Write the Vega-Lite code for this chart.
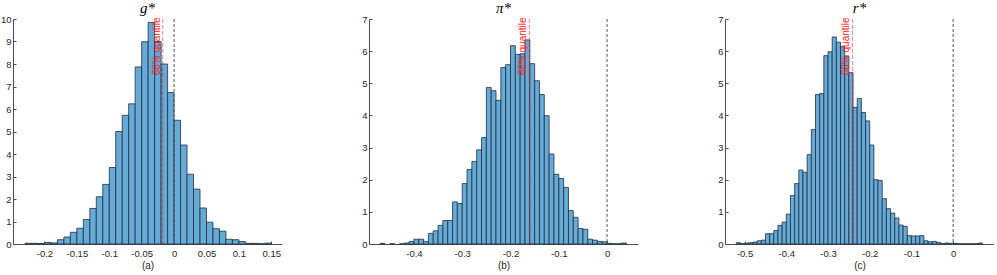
{
  "$schema": "https://vega.github.io/schema/vega-lite/v6.json",
  "padding": {"left": 0, "top": 0, "right": 0, "bottom": 0},
  "background": "white",
  "spacing": 87,
  "bounds": "flush",
  "datasets": {
    "hist_a": [
      {"bin_start": -0.23, "bin_end": -0.22, "density": 0.03},
      {"bin_start": -0.22, "bin_end": -0.21, "density": 0.03},
      {"bin_start": -0.21, "bin_end": -0.20, "density": 0.02},
      {"bin_start": -0.20, "bin_end": -0.19, "density": 0.07},
      {"bin_start": -0.19, "bin_end": -0.18, "density": 0.05},
      {"bin_start": -0.18, "bin_end": -0.17, "density": 0.19},
      {"bin_start": -0.17, "bin_end": -0.16, "density": 0.31},
      {"bin_start": -0.16, "bin_end": -0.15, "density": 0.52},
      {"bin_start": -0.15, "bin_end": -0.14, "density": 0.70},
      {"bin_start": -0.14, "bin_end": -0.13, "density": 1.09},
      {"bin_start": -0.13, "bin_end": -0.12, "density": 1.58},
      {"bin_start": -0.12, "bin_end": -0.11, "density": 2.10},
      {"bin_start": -0.11, "bin_end": -0.10, "density": 2.65},
      {"bin_start": -0.10, "bin_end": -0.09, "density": 3.40},
      {"bin_start": -0.09, "bin_end": -0.08, "density": 5.00},
      {"bin_start": -0.08, "bin_end": -0.07, "density": 5.72},
      {"bin_start": -0.07, "bin_end": -0.06, "density": 6.23},
      {"bin_start": -0.06, "bin_end": -0.05, "density": 7.87},
      {"bin_start": -0.05, "bin_end": -0.04, "density": 8.99},
      {"bin_start": -0.04, "bin_end": -0.03, "density": 9.85},
      {"bin_start": -0.03, "bin_end": -0.02, "density": 9.00},
      {"bin_start": -0.02, "bin_end": -0.01, "density": 8.00},
      {"bin_start": -0.01, "bin_end": 0.00, "density": 6.73},
      {"bin_start": 0.00, "bin_end": 0.01, "density": 5.50},
      {"bin_start": 0.01, "bin_end": 0.02, "density": 4.40},
      {"bin_start": 0.02, "bin_end": 0.03, "density": 3.10},
      {"bin_start": 0.03, "bin_end": 0.04, "density": 2.44},
      {"bin_start": 0.04, "bin_end": 0.05, "density": 1.60},
      {"bin_start": 0.05, "bin_end": 0.06, "density": 0.97},
      {"bin_start": 0.06, "bin_end": 0.07, "density": 0.68},
      {"bin_start": 0.07, "bin_end": 0.08, "density": 0.57},
      {"bin_start": 0.08, "bin_end": 0.09, "density": 0.21},
      {"bin_start": 0.09, "bin_end": 0.10, "density": 0.19},
      {"bin_start": 0.10, "bin_end": 0.11, "density": 0.11},
      {"bin_start": 0.11, "bin_end": 0.12, "density": 0.03},
      {"bin_start": 0.12, "bin_end": 0.13, "density": 0.03},
      {"bin_start": 0.13, "bin_end": 0.14, "density": 0.01},
      {"bin_start": 0.14, "bin_end": 0.15, "density": 0.04}
    ],
    "hist_b": [
      {"bin_start": -0.47, "bin_end": -0.46, "density": 0.02},
      {"bin_start": -0.45, "bin_end": -0.44, "density": 0.005},
      {"bin_start": -0.43, "bin_end": -0.42, "density": 0.005},
      {"bin_start": -0.42, "bin_end": -0.41, "density": 0.03},
      {"bin_start": -0.41, "bin_end": -0.40, "density": 0.08},
      {"bin_start": -0.40, "bin_end": -0.39, "density": 0.15},
      {"bin_start": -0.39, "bin_end": -0.38, "density": 0.15},
      {"bin_start": -0.38, "bin_end": -0.37, "density": 0.08},
      {"bin_start": -0.37, "bin_end": -0.36, "density": 0.33},
      {"bin_start": -0.36, "bin_end": -0.35, "density": 0.41},
      {"bin_start": -0.35, "bin_end": -0.34, "density": 0.58},
      {"bin_start": -0.34, "bin_end": -0.33, "density": 0.73},
      {"bin_start": -0.33, "bin_end": -0.32, "density": 0.73},
      {"bin_start": -0.32, "bin_end": -0.31, "density": 1.31},
      {"bin_start": -0.31, "bin_end": -0.30, "density": 1.26},
      {"bin_start": -0.30, "bin_end": -0.29, "density": 1.88},
      {"bin_start": -0.29, "bin_end": -0.28, "density": 2.32},
      {"bin_start": -0.28, "bin_end": -0.27, "density": 2.57},
      {"bin_start": -0.27, "bin_end": -0.26, "density": 2.93},
      {"bin_start": -0.26, "bin_end": -0.25, "density": 3.31},
      {"bin_start": -0.25, "bin_end": -0.24, "density": 4.87},
      {"bin_start": -0.24, "bin_end": -0.23, "density": 4.77},
      {"bin_start": -0.23, "bin_end": -0.22, "density": 4.47},
      {"bin_start": -0.22, "bin_end": -0.21, "density": 5.49},
      {"bin_start": -0.21, "bin_end": -0.20, "density": 5.58},
      {"bin_start": -0.20, "bin_end": -0.19, "density": 6.17},
      {"bin_start": -0.19, "bin_end": -0.18, "density": 5.90},
      {"bin_start": -0.18, "bin_end": -0.17, "density": 5.92},
      {"bin_start": -0.17, "bin_end": -0.16, "density": 6.35},
      {"bin_start": -0.16, "bin_end": -0.15, "density": 5.61},
      {"bin_start": -0.15, "bin_end": -0.14, "density": 5.08},
      {"bin_start": -0.14, "bin_end": -0.13, "density": 4.65},
      {"bin_start": -0.13, "bin_end": -0.12, "density": 3.99},
      {"bin_start": -0.12, "bin_end": -0.11, "density": 2.80},
      {"bin_start": -0.11, "bin_end": -0.10, "density": 2.17},
      {"bin_start": -0.10, "bin_end": -0.09, "density": 2.04},
      {"bin_start": -0.09, "bin_end": -0.08, "density": 1.76},
      {"bin_start": -0.08, "bin_end": -0.07, "density": 1.04},
      {"bin_start": -0.07, "bin_end": -0.06, "density": 0.83},
      {"bin_start": -0.06, "bin_end": -0.05, "density": 0.48},
      {"bin_start": -0.05, "bin_end": -0.04, "density": 0.46},
      {"bin_start": -0.04, "bin_end": -0.03, "density": 0.15},
      {"bin_start": -0.03, "bin_end": -0.02, "density": 0.12},
      {"bin_start": -0.02, "bin_end": -0.01, "density": 0.08},
      {"bin_start": -0.01, "bin_end": 0.00, "density": 0.07},
      {"bin_start": 0.00, "bin_end": 0.01, "density": 0.02},
      {"bin_start": 0.01, "bin_end": 0.02, "density": 0.005},
      {"bin_start": 0.02, "bin_end": 0.03, "density": 0.005},
      {"bin_start": 0.03, "bin_end": 0.04, "density": 0.03}
    ],
    "hist_c": [
      {"bin_start": -0.52, "bin_end": -0.51, "density": 0.04},
      {"bin_start": -0.51, "bin_end": -0.50, "density": 0.01},
      {"bin_start": -0.50, "bin_end": -0.49, "density": 0.03},
      {"bin_start": -0.49, "bin_end": -0.48, "density": 0.04},
      {"bin_start": -0.48, "bin_end": -0.47, "density": 0.06},
      {"bin_start": -0.47, "bin_end": -0.46, "density": 0.10},
      {"bin_start": -0.46, "bin_end": -0.45, "density": 0.12},
      {"bin_start": -0.45, "bin_end": -0.44, "density": 0.32},
      {"bin_start": -0.44, "bin_end": -0.43, "density": 0.32},
      {"bin_start": -0.43, "bin_end": -0.42, "density": 0.42},
      {"bin_start": -0.42, "bin_end": -0.41, "density": 0.58},
      {"bin_start": -0.41, "bin_end": -0.40, "density": 0.68},
      {"bin_start": -0.40, "bin_end": -0.39, "density": 0.93},
      {"bin_start": -0.39, "bin_end": -0.38, "density": 1.51},
      {"bin_start": -0.38, "bin_end": -0.37, "density": 1.88},
      {"bin_start": -0.37, "bin_end": -0.36, "density": 2.30},
      {"bin_start": -0.36, "bin_end": -0.35, "density": 2.23},
      {"bin_start": -0.35, "bin_end": -0.34, "density": 2.78},
      {"bin_start": -0.34, "bin_end": -0.33, "density": 3.56},
      {"bin_start": -0.33, "bin_end": -0.32, "density": 4.65},
      {"bin_start": -0.32, "bin_end": -0.31, "density": 4.68},
      {"bin_start": -0.31, "bin_end": -0.30, "density": 5.86},
      {"bin_start": -0.30, "bin_end": -0.29, "density": 5.98},
      {"bin_start": -0.29, "bin_end": -0.28, "density": 6.44},
      {"bin_start": -0.28, "bin_end": -0.27, "density": 6.28},
      {"bin_start": -0.27, "bin_end": -0.26, "density": 6.14},
      {"bin_start": -0.26, "bin_end": -0.25, "density": 5.85},
      {"bin_start": -0.25, "bin_end": -0.24, "density": 5.33},
      {"bin_start": -0.24, "bin_end": -0.23, "density": 4.25},
      {"bin_start": -0.23, "bin_end": -0.22, "density": 4.53},
      {"bin_start": -0.22, "bin_end": -0.21, "density": 4.09},
      {"bin_start": -0.21, "bin_end": -0.20, "density": 3.83},
      {"bin_start": -0.20, "bin_end": -0.19, "density": 3.08},
      {"bin_start": -0.19, "bin_end": -0.18, "density": 2.00},
      {"bin_start": -0.18, "bin_end": -0.17, "density": 1.98},
      {"bin_start": -0.17, "bin_end": -0.16, "density": 1.41},
      {"bin_start": -0.16, "bin_end": -0.15, "density": 1.10},
      {"bin_start": -0.15, "bin_end": -0.14, "density": 0.96},
      {"bin_start": -0.14, "bin_end": -0.13, "density": 0.81},
      {"bin_start": -0.13, "bin_end": -0.12, "density": 0.59},
      {"bin_start": -0.12, "bin_end": -0.11, "density": 0.55},
      {"bin_start": -0.11, "bin_end": -0.10, "density": 0.26},
      {"bin_start": -0.10, "bin_end": -0.09, "density": 0.25},
      {"bin_start": -0.09, "bin_end": -0.08, "density": 0.25},
      {"bin_start": -0.08, "bin_end": -0.07, "density": 0.26},
      {"bin_start": -0.07, "bin_end": -0.06, "density": 0.10},
      {"bin_start": -0.06, "bin_end": -0.05, "density": 0.07},
      {"bin_start": -0.05, "bin_end": -0.04, "density": 0.08},
      {"bin_start": -0.04, "bin_end": -0.03, "density": 0.05},
      {"bin_start": -0.03, "bin_end": -0.02, "density": 0.01},
      {"bin_start": -0.02, "bin_end": -0.01, "density": 0.03},
      {"bin_start": -0.01, "bin_end": 0.00, "density": 0.02},
      {"bin_start": 0.00, "bin_end": 0.01, "density": 0.02},
      {"bin_start": 0.01, "bin_end": 0.02, "density": 0.005},
      {"bin_start": 0.02, "bin_end": 0.03, "density": 0.005},
      {"bin_start": 0.03, "bin_end": 0.04, "density": 0.005},
      {"bin_start": 0.04, "bin_end": 0.05, "density": 0.005},
      {"bin_start": 0.05, "bin_end": 0.06, "density": 0.005},
      {"bin_start": 0.06, "bin_end": 0.07, "density": 0.03}
    ],
    "ref": [
      {"panel": "a", "zero": 0, "quantile": -0.0175, "label_y": 7.5, "label": "68% quantile"},
      {"panel": "b", "zero": 0, "quantile": -0.161, "label_y": 5.25, "label": "68% quantile"},
      {"panel": "c", "zero": 0, "quantile": -0.2415, "label_y": 5.25, "label": "68% quantile"}
    ]
  },
  "hconcat": [
    {
      "width": 269, "height": 225,
      "title": {"text": "g*"},
      "layer": [
        {
          "data": {"name": "hist_a"},
          "mark": {"type": "rect", "fill": "#66aad7", "stroke": "#1f2f3c", "strokeWidth": 0.8},
          "encoding": {
            "x": {"field": "bin_start", "type": "quantitative", "scale": {"domain": [-0.2485, 0.1665], "nice": false, "zero": false},
                  "axis": {"title": "(a)", "values": [-0.2, -0.15, -0.1, -0.05, 0, 0.05, 0.1, 0.15], "tickCount": 30, "labelOverlap": false}},
            "x2": {"field": "bin_end"},
            "y": {"field": "density", "type": "quantitative", "scale": {"domain": [0, 10], "nice": false},
                  "axis": {"title": null, "values": [0, 1, 2, 3, 4, 5, 6, 7, 8, 9, 10], "tickCount": 30, "labelOverlap": false}},
            "y2": {"datum": 0}
          }
        },
        {
          "data": {"name": "ref"}, "transform": [{"filter": "datum.panel == 'a'"}],
          "mark": {"type": "rule", "color": "#555555", "strokeDash": [3, 2], "strokeWidth": 1},
          "encoding": {"x": {"field": "zero", "type": "quantitative"}}
        },
        {
          "data": {"name": "ref"}, "transform": [{"filter": "datum.panel == 'a'"}],
          "mark": {"type": "rule", "color": "#ff0000", "opacity": 0.5, "strokeDash": [4, 2], "strokeWidth": 1},
          "encoding": {"x": {"field": "quantile", "type": "quantitative"}}
        },
        {
          "data": {"name": "ref"}, "transform": [{"filter": "datum.panel == 'a'"}],
          "mark": {"type": "text", "angle": 270, "align": "left", "baseline": "bottom", "dy": -1, "color": "#ff1a1a", "font": "Liberation Sans", "fontSize": 10},
          "encoding": {"x": {"field": "quantile", "type": "quantitative"}, "y": {"field": "label_y", "type": "quantitative"}, "text": {"field": "label"}}
        }
      ]
    },
    {
      "width": 269, "height": 225,
      "title": {"text": "π*"},
      "layer": [
        {
          "data": {"name": "hist_b"},
          "mark": {"type": "rect", "fill": "#66aad7", "stroke": "#1f2f3c", "strokeWidth": 0.8},
          "encoding": {
            "x": {"field": "bin_start", "type": "quantitative", "scale": {"domain": [-0.493, 0.064], "nice": false, "zero": false},
                  "axis": {"title": "(b)", "values": [-0.4, -0.3, -0.2, -0.1, 0], "tickCount": 30, "labelOverlap": false}},
            "x2": {"field": "bin_end"},
            "y": {"field": "density", "type": "quantitative", "scale": {"domain": [0, 7], "nice": false},
                  "axis": {"title": null, "values": [0, 1, 2, 3, 4, 5, 6, 7], "tickCount": 30, "labelOverlap": false}},
            "y2": {"datum": 0}
          }
        },
        {
          "data": {"name": "ref"}, "transform": [{"filter": "datum.panel == 'b'"}],
          "mark": {"type": "rule", "color": "#555555", "strokeDash": [3, 2], "strokeWidth": 1},
          "encoding": {"x": {"field": "zero", "type": "quantitative"}}
        },
        {
          "data": {"name": "ref"}, "transform": [{"filter": "datum.panel == 'b'"}],
          "mark": {"type": "rule", "color": "#ff0000", "opacity": 0.5, "strokeDash": [4, 2], "strokeWidth": 1},
          "encoding": {"x": {"field": "quantile", "type": "quantitative"}}
        },
        {
          "data": {"name": "ref"}, "transform": [{"filter": "datum.panel == 'b'"}],
          "mark": {"type": "text", "angle": 270, "align": "left", "baseline": "bottom", "dy": -1, "color": "#ff1a1a", "font": "Liberation Sans", "fontSize": 10},
          "encoding": {"x": {"field": "quantile", "type": "quantitative"}, "y": {"field": "label_y", "type": "quantitative"}, "text": {"field": "label"}}
        }
      ]
    },
    {
      "width": 269, "height": 225,
      "title": {"text": "r*"},
      "layer": [
        {
          "data": {"name": "hist_c"},
          "mark": {"type": "rect", "fill": "#66aad7", "stroke": "#1f2f3c", "strokeWidth": 0.8},
          "encoding": {
            "x": {"field": "bin_start", "type": "quantitative", "scale": {"domain": [-0.547, 0.098], "nice": false, "zero": false},
                  "axis": {"title": "(c)", "values": [-0.5, -0.4, -0.3, -0.2, -0.1, 0], "tickCount": 30, "labelOverlap": false}},
            "x2": {"field": "bin_end"},
            "y": {"field": "density", "type": "quantitative", "scale": {"domain": [0, 7], "nice": false},
                  "axis": {"title": null, "values": [0, 1, 2, 3, 4, 5, 6, 7], "tickCount": 30, "labelOverlap": false}},
            "y2": {"datum": 0}
          }
        },
        {
          "data": {"name": "ref"}, "transform": [{"filter": "datum.panel == 'c'"}],
          "mark": {"type": "rule", "color": "#555555", "strokeDash": [3, 2], "strokeWidth": 1},
          "encoding": {"x": {"field": "zero", "type": "quantitative"}}
        },
        {
          "data": {"name": "ref"}, "transform": [{"filter": "datum.panel == 'c'"}],
          "mark": {"type": "rule", "color": "#ff0000", "opacity": 0.5, "strokeDash": [4, 2], "strokeWidth": 1},
          "encoding": {"x": {"field": "quantile", "type": "quantitative"}}
        },
        {
          "data": {"name": "ref"}, "transform": [{"filter": "datum.panel == 'c'"}],
          "mark": {"type": "text", "angle": 270, "align": "left", "baseline": "bottom", "dy": -1, "color": "#ff1a1a", "font": "Liberation Sans", "fontSize": 10},
          "encoding": {"x": {"field": "quantile", "type": "quantitative"}, "y": {"field": "label_y", "type": "quantitative"}, "text": {"field": "label"}}
        }
      ]
    }
  ],
  "config": {
    "view": {"stroke": null},
    "axis": {
      "grid": false, "labelOverlap": false,
      "labelFont": "Liberation Sans", "labelFontSize": 9.5, "labelColor": "#262626",
      "domainColor": "#4d4d4d", "domainWidth": 1,
      "tickColor": "#4d4d4d", "tickSize": -3, "labelPadding": 7,
      "titleFont": "Liberation Sans", "titleFontSize": 10, "titleFontWeight": "normal", "titleColor": "#262626", "titlePadding": 3
    },
    "axisY": {"labelPadding": 5, "labelExpr": "format(datum.value, 'd')"},
    "axisX": {"labelExpr": "replace(format(datum.value, '.2~f'), '\u2212', '-')"},
    "title": {"font": "Liberation Serif", "fontStyle": "italic", "fontSize": 15, "fontWeight": "normal", "color": "#000000", "offset": -1.5}
  }
}
